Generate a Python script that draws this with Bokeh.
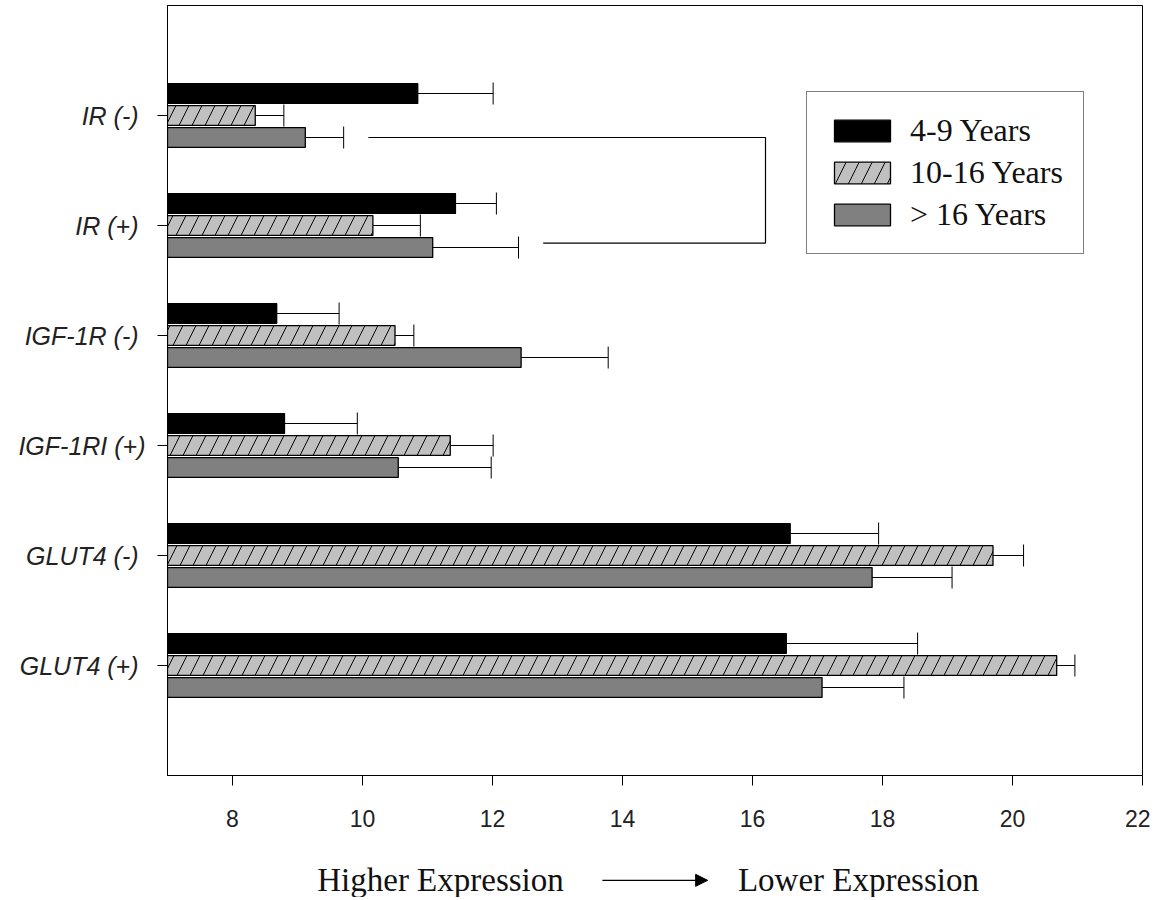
from bokeh.plotting import figure
from bokeh.layouts import column
from bokeh.models import (Range1d, FixedTicker, ColumnDataSource, Whisker, TeeHead,
                          Legend, LegendItem, Label, Arrow, NormalHead)
from bokeh.embed import file_html
from bokeh.resources import INLINE

# ---- data ----
categories = ["IR  (-)", "IR  (+)", "IGF-1R  (-)", "IGF-1RI (+)", "GLUT4  (-)", "GLUT4  (+)"]
series_names = ["4-9 Years", "10-16 Years", "> 16 Years"]
mean_4_9 = [10.85, 11.43, 8.68, 8.80, 16.58, 16.52]
err_4_9 = [1.16, 0.63, 0.96, 1.12, 1.36, 2.02]
mean_10_16 = [8.35, 10.16, 10.50, 11.35, 19.70, 20.68]
err_10_16 = [0.44, 0.73, 0.29, 0.66, 0.47, 0.28]
mean_gt16 = [9.12, 11.08, 12.44, 10.55, 17.84, 17.07]
err_gt16 = [0.59, 1.32, 1.34, 1.43, 1.23, 1.26]
x_ticks = [8, 10, 12, 14, 16, 18, 20, 22]
bracket_x = [10.09, 16.2, 16.2, 12.78]
bracket_y = [0.2, 0.2, 1.16, 1.16]
caption_left = "Higher Expression"
caption_right = "Lower Expression"

# ---- figure ----
xr = Range1d(7, 22)
p = figure(width=1150, height=845, output_backend="svg", toolbar_location=None,
           x_range=xr, y_range=Range1d(6, -1),
           min_border_left=167, min_border_right=8, min_border_top=5, min_border_bottom=70)
p.xgrid.visible = False
p.ygrid.visible = False
p.outline_line_color = "black"
p.outline_line_width = 1
p.background_fill_color = "white"
p.border_fill_color = "white"

offsets = [-0.2, 0.0, 0.2]
styles = [
    dict(fill_color="black"),
    dict(fill_color="#c0c0c0", hatch_pattern="/", hatch_color="black", hatch_scale=26, hatch_weight=1),
    dict(fill_color="#808080"),
]
means = [mean_4_9, mean_10_16, mean_gt16]
errs = [err_4_9, err_10_16, err_gt16]

items = []
for name, m, e, off, st in zip(series_names, means, errs, offsets, styles):
    src = ColumnDataSource(dict(
        y=[i + off for i in range(len(categories))],
        v=m,
        hi=[a + b for a, b in zip(m, e)],
    ))
    r = p.hbar(y="y", right="v", left=7, height=0.18, source=src,
               line_color="black", line_width=1.3, **st)
    w = Whisker(source=src, base="y", lower="v", upper="hi", dimension="width",
                line_color="black", line_width=1,
                lower_head=None,
                upper_head=TeeHead(size=22, line_color="black", line_width=1))
    p.add_layout(w)
    items.append(LegendItem(label=name, renderers=[r]))

p.line(bracket_x, bracket_y, line_color="black", line_width=1.2)

# ---- axes ----
p.xaxis.ticker = FixedTicker(ticks=x_ticks)
p.xaxis.major_label_text_font = "Liberation Sans"
p.xaxis.major_label_text_font_size = "23px"
p.xaxis.major_label_text_color = "#222222"
p.xaxis.major_label_standoff = 24
p.xaxis.major_tick_out = 10
p.xaxis.major_tick_in = 0
p.xaxis.minor_tick_line_color = None
p.xaxis.axis_line_color = "black"

p.yaxis.ticker = FixedTicker(ticks=list(range(len(categories))))
p.yaxis.major_label_overrides = {i: c for i, c in enumerate(categories)}
p.yaxis.major_label_text_font = "Liberation Sans"
p.yaxis.major_label_text_font_style = "italic"
p.yaxis.major_label_text_font_size = "25px"
p.yaxis.major_label_text_color = "#222222"
p.yaxis.major_label_standoff = 12
p.yaxis.major_tick_out = 10
p.yaxis.major_tick_in = 0
p.yaxis.minor_tick_line_color = None
p.yaxis.axis_line_color = "black"

# ---- legend ----
legend = Legend(items=items, location=(639, 521),
                glyph_width=70, glyph_height=27, label_height=27,
                label_text_font="Liberation Serif", label_text_font_size="32px",
                label_text_color="#111111",
                label_standoff=13, spacing=5, padding=20,
                border_line_color="black", border_line_width=1.2,
                background_fill_color="white", background_fill_alpha=1.0)
p.add_layout(legend)

# ---- bottom caption (separate strip sharing the x range) ----
cap = figure(width=1150, height=52, output_backend="svg", toolbar_location=None,
             x_range=xr, y_range=Range1d(0, 1),
             min_border_left=167, min_border_right=8, min_border_top=0, min_border_bottom=0)
cap.axis.visible = False
cap.xgrid.visible = False
cap.ygrid.visible = False
cap.outline_line_color = None
cap.background_fill_color = "white"
cap.border_fill_color = "white"
cap.add_layout(Label(x=11.2, y=0.33, text=caption_left, text_align="center",
                     text_baseline="middle", text_font="Liberation Serif",
                     text_font_size="33px", text_color="#111111"))
cap.add_layout(Label(x=17.63, y=0.33, text=caption_right, text_align="center",
                     text_baseline="middle", text_font="Liberation Serif",
                     text_font_size="33px", text_color="#111111"))
cap.add_layout(Arrow(x_start=13.69, y_start=0.33, x_end=15.31, y_end=0.33,
                     line_color="black", line_width=1.2,
                     end=NormalHead(size=12, fill_color="black", line_color="black")))

layout = column(p, cap, spacing=0)
open("out.html", "w").write(file_html(layout, INLINE))
